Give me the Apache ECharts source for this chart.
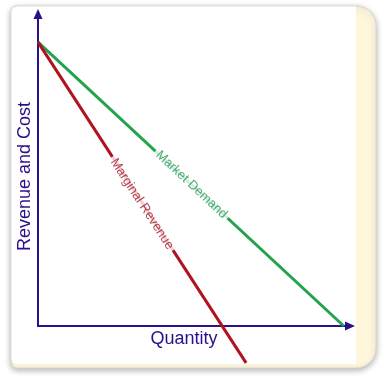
<!DOCTYPE html>
<html><head><meta charset="utf-8">
<script src="https://cdn.jsdelivr.net/npm/echarts@6/dist/echarts.min.js"></script>
<style>html,body{margin:0;padding:0;background:#fff}#c{width:384px;height:380px}</style>
</head><body><div id="c"></div>
<script>
const lineNames = ['Market Demand', 'Marginal Revenue'];
const demandPoints = [[0, 91], [98, 0]];
const marginalRevenuePoints = [[0, 91], [66.7, -11.8]];
const labelPositions = [[49.2, 45.3], [33.3, 39.1]];
const xAxisTitle = 'Quantity';
const yAxisTitle = 'Revenue and Cost';

const NAVY = '#2b0f8c';
const GREEN = '#22a34c';
const RED = '#b0121f';
const FONT = '"Liberation Sans", Arial, sans-serif';

const chart = echarts.init(document.getElementById('c'), null, {renderer: 'canvas'});

function labelSeries(idx, textColor, angle) {
  return {
    type: 'scatter',
    z: 5,
    symbolSize: 0,
    silent: true,
    data: [labelPositions[idx]],
    label: {
      show: true,
      position: 'inside',
      formatter: lineNames[idx],
      rotate: angle,
      color: textColor,
      fontFamily: FONT,
      fontSize: 13,
      backgroundColor: '#ffffff',
      padding: [1, 3, 1, 3]
    }
  };
}

chart.setOption({
  animation: false,
  graphic: [
    {
      type: 'rect', z: -20,
      shape: {x: 11, y: 6, width: 365, height: 362, r: [6, 20, 20, 6]},
      style: {fill: '#fff7dc', stroke: '#d4d4d4', lineWidth: 1,
        shadowBlur: 6, shadowColor: 'rgba(0,0,0,0.3)', shadowOffsetX: 0, shadowOffsetY: 2}
    },
    {
      type: 'rect', z: -19,
      shape: {x: 11.5, y: 6.5, width: 344.5, height: 357.5, r: [6, 0, 0, 6]},
      style: {fill: '#ffffff'}
    }
  ],
  grid: {left: 38, right: 34, top: 14, bottom: 54, containLabel: false},
  xAxis: {
    type: 'value', min: 0, max: 100,
    name: xAxisTitle, nameLocation: 'middle', nameGap: 4,
    nameTextStyle: {color: NAVY, fontSize: 18, fontFamily: FONT, padding: [0, 20, 0, 0]},
    axisLine: {show: true, onZero: false, symbol: ['none', 'triangle'], symbolSize: [9, 10],
      lineStyle: {color: NAVY, width: 2}},
    axisTick: {show: false}, axisLabel: {show: false}, splitLine: {show: false}
  },
  yAxis: {
    type: 'value', min: 0, max: 100,
    name: yAxisTitle, nameLocation: 'middle', nameGap: 4, nameRotate: 90,
    nameTextStyle: {color: NAVY, fontSize: 18, fontFamily: FONT, padding: [0, 13, 0, 0]},
    axisLine: {show: true, onZero: false, symbol: ['none', 'triangle'], symbolSize: [9, 10],
      lineStyle: {color: NAVY, width: 2}},
    axisTick: {show: false}, axisLabel: {show: false}, splitLine: {show: false}
  },
  series: [
    {
      type: 'line', name: lineNames[0], data: demandPoints, clip: false,
      symbol: 'none', z: 3,
      lineStyle: {color: GREEN, width: 3}
    },
    {
      type: 'line', name: lineNames[1], data: marginalRevenuePoints, clip: false,
      symbol: 'none', z: 3,
      lineStyle: {color: RED, width: 3}
    },
    labelSeries(0, '#23965a', -43),
    labelSeries(1, '#a3162a', -57)
  ]
});
</script>
</body></html>
